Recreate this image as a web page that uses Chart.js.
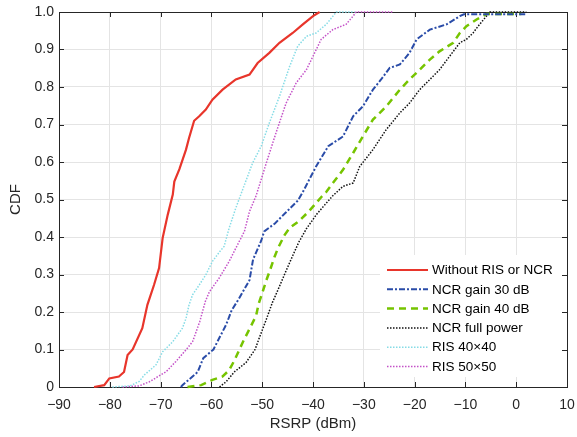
<!DOCTYPE html>
<html>
<head>
<meta charset="utf-8">
<script src="https://cdn.jsdelivr.net/npm/chart.js@4.4.1/dist/chart.umd.min.js"></script>
<style>
html,body{margin:0;padding:0;background:#fff;}
canvas{display:block;}
</style>
</head>
<body>
<canvas id="c" width="577" height="437" style="width:577px;height:437px"></canvas>
<script>
// ---- Data ----
const xTicks = [-90,-80,-70,-60,-50,-40,-30,-20,-10,0,10];
const yTicks = [0,0.1,0.2,0.3,0.4,0.5,0.6,0.7,0.8,0.9,1.0];

const labels = ["Without RIS or NCR","NCR gain 30 dB","NCR gain 40 dB","NCR full power","RIS 40\u00d740","RIS 50\u00d750"];

const redX = [-83.1,-81.1,-80.1,-78.2,-77.2,-76.5,-75.5,-73.6,-72.6,-71.3,-70.3,-69.6,-68.6,-67.6,-67.3,-66.3,-65.0,-64.4,-63.4,-62.4,-61.1,-59.8,-57.8,-55.2,-52.5,-50.9,-48.6,-46.6,-44.0,-42.0,-40.0,-38.7];
const redY = [0,0.005,0.023,0.028,0.04,0.085,0.10,0.157,0.219,0.272,0.317,0.397,0.459,0.513,0.548,0.581,0.633,0.664,0.710,0.722,0.74,0.766,0.793,0.82,0.833,0.864,0.891,0.918,0.944,0.967,0.989,1.0];

const blueX = [-66.0,-65.7,-64.4,-62.7,-61.6,-59.6,-58.4,-57.1,-56.0,-54.6,-53.8,-52.5,-51.8,-50.2,-49.6,-47.5,-45.3,-43.0,-42.0,-39.4,-37.0,-34.1,-32.1,-30.2,-28.2,-26.6,-24.9,-22.9,-21.0,-19.6,-17.0,-13.7,-11.1,-10.3,2.0];
const blueY = [0,0.005,0.02,0.04,0.077,0.10,0.132,0.166,0.205,0.235,0.254,0.285,0.34,0.39,0.415,0.436,0.466,0.497,0.52,0.588,0.642,0.668,0.722,0.748,0.793,0.82,0.851,0.86,0.891,0.927,0.953,0.967,0.989,0.994,0.994];

const greenX = [-64.7,-62.0,-59.8,-57.8,-56.5,-55.5,-53.8,-52.2,-51.2,-50.7,-50.0,-49.2,-48.5,-47.6,-46.9,-45.6,-44.6,-42.7,-40.7,-38.4,-37.4,-36.1,-34.1,-32.1,-30.2,-28.2,-25.6,-22.9,-21.0,-19.0,-17.0,-15.1,-12.4,-11.1,-9.8,-7.8,-5.8,1.0];
const greenY = [0,0.005,0.019,0.028,0.045,0.07,0.12,0.163,0.19,0.222,0.25,0.284,0.31,0.346,0.37,0.405,0.424,0.443,0.47,0.506,0.52,0.544,0.579,0.624,0.668,0.713,0.748,0.793,0.82,0.846,0.873,0.895,0.918,0.944,0.962,0.98,0.995,0.995];

const blackX = [-58.4,-57.1,-55.5,-53.2,-51.4,-50.6,-49.2,-48.0,-46.8,-45.3,-44.0,-42.8,-41.3,-39.2,-37.4,-36.1,-34.1,-32.1,-30.8,-28.2,-25.6,-22.9,-21.0,-19.0,-17.0,-15.1,-13.1,-11.1,-9.8,-8.5,-7.5,-5.2,2.0];
const blackY = [0,0.014,0.04,0.065,0.1,0.13,0.18,0.225,0.262,0.31,0.35,0.386,0.422,0.462,0.49,0.51,0.535,0.544,0.588,0.633,0.686,0.731,0.757,0.793,0.82,0.846,0.882,0.918,0.927,0.944,0.962,1.0,1.0];

const cyanX = [-79.5,-76.0,-74.2,-73.2,-70.9,-69.6,-67.6,-65.7,-65.0,-64.4,-63.7,-62.4,-61.1,-59.8,-58.3,-57.5,-56.5,-55.2,-54.3,-51.9,-50.2,-48.6,-46.6,-44.6,-43.0,-41.3,-39.4,-37.4,-35.4,-31.8];
const cyanY = [0,0.003,0.015,0.032,0.059,0.094,0.121,0.157,0.183,0.219,0.246,0.272,0.299,0.335,0.362,0.375,0.424,0.477,0.51,0.597,0.642,0.704,0.775,0.855,0.909,0.935,0.944,0.967,1.0,1.0];

const magX = [-77.5,-74.2,-72.2,-68.9,-67.0,-65.0,-63.7,-62.3,-61.2,-60.4,-58.5,-56.5,-55.2,-53.5,-52.5,-51.2,-49.2,-47.3,-45.3,-43.3,-41.3,-40.0,-38.4,-36.1,-33.5,-32.1,-31.5,-24.4];
const magY = [0,0.003,0.014,0.041,0.068,0.099,0.121,0.174,0.228,0.254,0.29,0.335,0.37,0.415,0.468,0.51,0.597,0.677,0.757,0.811,0.846,0.882,0.927,0.953,0.967,0.989,1.0,1.0];

function pts(xs, ys){ return xs.map((x,i)=>({x:x, y:ys[i]})); }

const FONT = "'Liberation Sans', Arial, Helvetica, sans-serif";
const TXT = '#262626';

const datasets = [
  {label:labels[0], data:pts(redX,redY), borderColor:'#e8352b', borderWidth:2.2, borderDash:[]},
  {label:labels[1], data:pts(blueX,blueY), borderColor:'#2a4ca8', borderWidth:2, borderDash:[6,2,2,2]},
  {label:labels[2], data:pts(greenX,greenY), borderColor:'#76c400', borderWidth:2.5, borderDash:[7,5]},
  {label:labels[3], data:pts(blackX,blackY), borderColor:'#111111', borderWidth:1.5, borderDash:[1.5,1.5]},
  {label:labels[4], data:pts(cyanX,cyanY), borderColor:'#86dce6', borderWidth:1.5, borderDash:[1.5,1.5]},
  {label:labels[5], data:pts(magX,magY), borderColor:'#c452c8', borderWidth:1.5, borderDash:[1.5,1.5]}
].map(d => Object.assign(d, {showLine:true, pointRadius:0, pointHoverRadius:0, tension:0, fill:false, clip:4}));

function drawTicks(chart, sides){
  const ctx = chart.ctx, a = chart.chartArea;
  const xs = chart.scales.x, ys = chart.scales.y;
  const tl = 5;
  ctx.beginPath();
  xTicks.forEach(v=>{
    const px = Math.round(xs.getPixelForValue(v))+0.5;
    if (sides.bottom){ ctx.moveTo(px, a.bottom); ctx.lineTo(px, a.bottom-tl); }
    if (sides.top){ ctx.moveTo(px, a.top); ctx.lineTo(px, a.top+tl); }
  });
  yTicks.forEach(v=>{
    const py = Math.round(ys.getPixelForValue(v))+0.5;
    if (sides.left){ ctx.moveTo(a.left, py); ctx.lineTo(a.left+tl, py); }
    if (sides.right){ ctx.moveTo(a.right, py); ctx.lineTo(a.right-tl, py); }
  });
  ctx.stroke();
}

const framePlugin = {
  id:'frame',
  beforeDatasetsDraw(chart){
    const ctx = chart.ctx, a = chart.chartArea;
    ctx.save();
    ctx.strokeStyle = '#262626';
    ctx.lineWidth = 1;
    ctx.strokeRect(Math.round(a.left)+0.5, Math.round(a.top)+0.5, Math.round(a.right-a.left), Math.round(a.bottom-a.top));
    drawTicks(chart, {top:true,bottom:true,left:true,right:true});
    ctx.restore();
  },
  afterDatasetsDraw(chart){
    const ctx = chart.ctx, a = chart.chartArea;
    ctx.save();
    // legend
    const lx0 = 380, ly0 = 255, lx1 = a.right, ly1 = 377;
    ctx.fillStyle = '#fff';
    ctx.fillRect(lx0, ly0, lx1-lx0, ly1-ly0);
    chart.data.datasets.forEach((d,i)=>{
      const y = 270 + i*19.3;
      ctx.beginPath();
      ctx.strokeStyle = d.borderColor;
      ctx.lineWidth = d.borderWidth;
      ctx.setLineDash(d.borderDash);
      ctx.moveTo(387, y); ctx.lineTo(428, y);
      ctx.stroke();
      ctx.setLineDash([]);
      ctx.fillStyle = '#000';
      ctx.font = '13.5px ' + FONT;
      ctx.textBaseline = 'middle';
      ctx.textAlign = 'left';
      ctx.fillText(d.label, 432, y+0.5);
    });
    // right edge and its ticks above the legend box
    ctx.strokeStyle = '#262626';
    ctx.lineWidth = 1;
    ctx.beginPath();
    const rx = Math.round(a.right)+0.5;
    ctx.moveTo(rx, ly0); ctx.lineTo(rx, ly1);
    ctx.stroke();
    drawTicks(chart, {right:true});
    ctx.restore();
  }
};

new Chart(document.getElementById('c'), {
  type:'scatter',
  data:{datasets:datasets},
  options:{
    responsive:false,
    animation:false,
    events:[],
    layout:{padding:{left:0,right:10,top:12,bottom:0}},
    plugins:{legend:{display:false}, tooltip:{enabled:false}},
    scales:{
      x:{
        type:'linear', min:-90, max:10,
        afterFit(s){ s.height = 50; s.paddingLeft = 0; s.paddingRight = 0; },
        afterBuildTicks(s){ s.ticks = xTicks.map(v=>({value:v})); },
        grid:{color:'#e4e4e4', drawTicks:false, lineWidth:1},
        border:{display:false},
        ticks:{padding:10, color:TXT, font:{family:FONT, size:14}, maxRotation:0,
          callback:(v)=> v<0 ? '\u2212'+Math.abs(v) : String(v)},
        title:{display:true, text:'RSRP (dBm)', color:TXT, font:{family:FONT, size:15}, padding:{top:0,bottom:4}}
      },
      y:{
        type:'linear', min:0, max:1,
        afterFit(s){ s.width = 59; s.paddingTop = 0; s.paddingBottom = 0; },
        afterBuildTicks(s){ s.ticks = yTicks.map(v=>({value:v})); },
        grid:{color:'#e4e4e4', drawTicks:false, lineWidth:1},
        border:{display:false},
        ticks:{padding:5, color:TXT, font:{family:FONT, size:14},
          callback:(v)=> v===0 ? '0' : Number(v).toFixed(1)},
        title:{display:true, text:'CDF', color:TXT, font:{family:FONT, size:15}, padding:{top:7,bottom:0}}
      }
    }
  },
  plugins:[framePlugin]
});
</script>
</body>
</html>
